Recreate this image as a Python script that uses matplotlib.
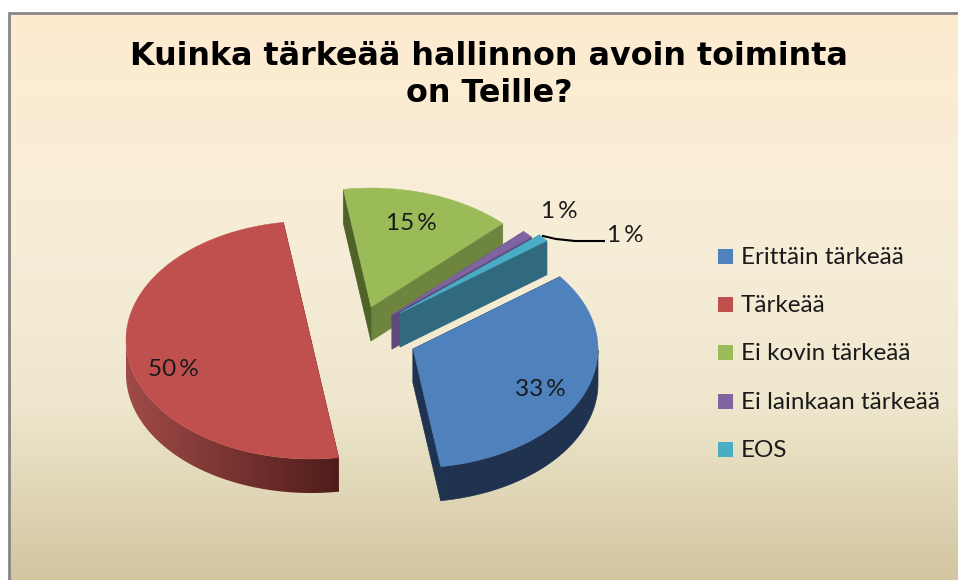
# plot.py
# 3D style exploded pie, drawn by hand on a pixel-sized axes

import numpy as np
import matplotlib
matplotlib.use('Agg')
import matplotlib.pyplot as plt
from matplotlib.patches import Polygon, Rectangle
from matplotlib.colors import to_rgb

title = 'Kuinka tärkeää hallinnon avoin toiminta\non Teille?'
categories = ['Erittäin tärkeää', 'Tärkeää', 'Ei kovin tärkeää', 'Ei lainkaan tärkeää', 'EOS']
shares = [33, 50, 15, 1, 1]

top_colors = ['#4F81BD', '#C0504D', '#9BBB59', '#8064A2', '#4BACC6']

# layout, all in pixels
RX, RY, DEPTH = 185, 119, 34
START_ANGLE = 37.4
apex_x = [413, 311, 371, 392, 400]
apex_y = [349, 340, 307, 315, 313]
label_x = [540, 173, 411, 559, 625]
label_y = [390, 369, 224, 212, 236]
# darker sides: start cut, end cut, rim (left and right end for the gradient)
start_cut_colors = ['#1F3350', '#632523', '#6E8540', '#5F4A7B', '#31697E']
end_cut_colors = ['#1F3350', '#632523', '#4F6228', '#5F4A7B', '#31697E']
rim_left = ['#1F3350', '#A04B48', '#6E8540', '#5F4A7B', '#31697E']
rim_right = ['#1F3350', '#4F1C1A', '#6E8540', '#5F4A7B', '#31697E']

fig = plt.figure(figsize=(9.58, 5.8), dpi=100)
ax = fig.add_axes([0, 0, 1, 1])

# Background gradient
stop_y = [0, 130, 250, 400, 500, 580]
stop_rgb = np.array([to_rgb(c) for c in ['#FDEBCF', '#FAEDD5', '#F6EDD8', '#EEE7CD', '#DFD5B5', '#D2C5A0']])
ys = np.arange(580)
grad = np.stack([np.interp(ys, stop_y, stop_rgb[:, i]) for i in range(3)], axis=1)[:, None, :]
ax.imshow(grad, extent=(9, 958, 580, 13), aspect='auto', zorder=0)
ax.plot([9, 9, 958], [580, 13, 13], color='#868686', lw=2, zorder=1, solid_joinstyle='miter')


def pt(cx, cy, t):
    return cx + RX * np.cos(t), cy - RY * np.sin(t)


def draw_slice(i, t0, t1):
    cx, cy = apex_x[i], apex_y[i]
    z = 2 + i * 0.1
    x0, y0 = pt(cx, cy, t0)
    x1, y1 = pt(cx, cy, t1)
    # cut faces
    for (xe, ye, col) in [(x0, y0, start_cut_colors[i]), (x1, y1, end_cut_colors[i])]:
        ax.add_patch(Polygon([(cx, cy), (xe, ye), (xe, ye + DEPTH), (cx, cy + DEPTH)],
                             fc=col, ec=col, lw=0.5, zorder=z))
    # rim, only the part that faces the viewer
    ts = np.linspace(t0, t1, 240)
    front = ts[np.sin(ts) <= 0]
    if len(front) > 1:
        xf, yf = pt(cx, cy, front)
        verts = list(zip(xf, yf)) + list(zip(xf[::-1], yf[::-1] + DEPTH))
        if rim_left[i] == rim_right[i]:
            ax.add_patch(Polygon(verts, fc=rim_left[i], ec=rim_left[i], lw=0.5, zorder=z + 0.01))
        else:
            # left to right shading of the rim
            shape = Polygon(verts, fc='none', ec='none', zorder=z + 0.01)
            ax.add_patch(shape)
            ramp = np.linspace(np.array(to_rgb(rim_left[i])), np.array(to_rgb(rim_right[i])), 256)[None, :, :]
            im = ax.imshow(ramp, extent=(xf.min(), xf.max(), yf.max() + DEPTH, yf.min()),
                           aspect='auto', zorder=z + 0.01)
            im.set_clip_path(shape)
    # top
    xs, ys_ = pt(cx, cy, ts)
    verts = [(cx, cy)] + list(zip(xs, ys_))
    ax.add_patch(Polygon(verts, fc=top_colors[i], ec=top_colors[i], lw=0.3, zorder=z + 0.02))


# slices run clockwise from the start angle
angle = START_ANGLE
slices = []
for i, s in enumerate(shares):
    span = s / sum(shares) * 360
    slices.append((i, np.radians(angle - span), np.radians(angle)))
    angle -= span
for i, t0, t1 in slices:
    draw_slice(i, t0, t1)

# Data labels
for i, s in enumerate(shares):
    ax.text(label_x[i], label_y[i], f'{s}\u2009%', family=['Lato', 'DejaVu Sans'], fontsize=17.5, color='#1a1a1a',
            ha='center', va='center', zorder=5)

# Leader line to the EOS label
ax.plot([543, 556, 575, 604], [236, 239, 241, 241], color='black', lw=1.5, zorder=5)

# Title
ax.text(489, 75, title, family='DejaVu Sans', weight='bold', fontsize=22.9, color='black',
        ha='center', va='center', linespacing=1.24, zorder=5)

# Legend
legend_y = [256, 304, 352, 401, 449]
for name, col, y in zip(categories, top_colors, legend_y):
    ax.add_patch(Rectangle((718, y - 7.5), 15, 15, fc=col, ec='none', zorder=5))
    ax.text(741, y + 1.5, name, family='Lato', fontsize=17.5, color='#1a1a1a', ha='left', va='center', zorder=5)

ax.set_xlim(0, 958)
ax.set_ylim(580, 0)
ax.axis('off')

fig.savefig('out.png', dpi=100)
